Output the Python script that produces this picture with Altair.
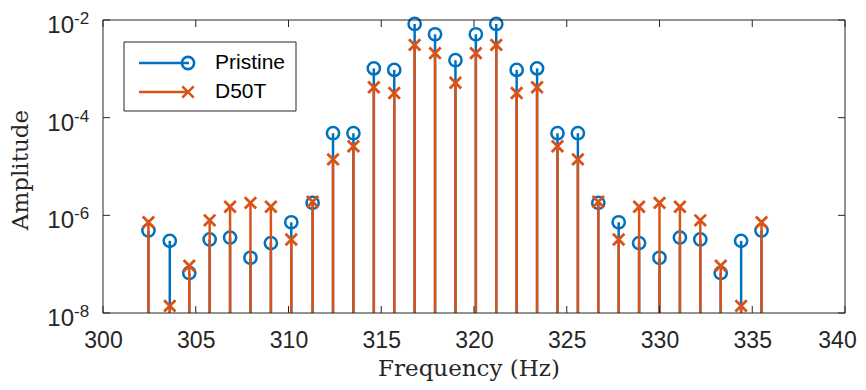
import altair as alt
import pandas as pd

# ---- data ----
freq = [302.45, 303.6, 304.65, 305.75, 306.85, 307.95, 309.05, 310.15, 311.3, 312.4,
        313.5, 314.6, 315.7, 316.8, 317.9, 319.0, 320.1, 321.2, 322.3, 323.4,
        324.5, 325.6, 326.7, 327.8, 328.9, 330.0, 331.1, 332.2, 333.3, 334.4, 335.5]
pristine = [4.9e-7, 3.0e-7, 6.6e-8, 3.2e-7, 3.5e-7, 1.35e-7, 2.7e-7, 7.2e-7, 1.8e-6, 4.8e-5,
            4.8e-5, 1.02e-3, 9.5e-4, 8.3e-3, 5.1e-3, 1.5e-3, 5.1e-3, 8.3e-3, 9.5e-4, 1.02e-3,
            4.8e-5, 4.8e-5, 1.8e-6, 7.2e-7, 2.7e-7, 1.35e-7, 3.5e-7, 3.2e-7, 6.6e-8, 3.0e-7, 4.9e-7]
d50t = [7.2e-7, 1.4e-8, 9.3e-8, 7.9e-7, 1.5e-6, 1.8e-6, 1.5e-6, 3.2e-7, 1.9e-6, 1.4e-5,
        2.6e-5, 4.2e-4, 3.2e-4, 3.1e-3, 2.1e-3, 5.2e-4, 2.1e-3, 3.1e-3, 3.2e-4, 4.2e-4,
        2.6e-5, 1.4e-5, 1.9e-6, 3.2e-7, 1.5e-6, 1.8e-6, 1.5e-6, 7.9e-7, 9.3e-8, 1.4e-8, 7.2e-7]
series_names = ["Pristine", "D50T"]
series_colors = ["#0072BD", "#D95319"]
x_ticks = [300, 305, 310, 315, 320, 325, 330, 335, 340]
y_ticks = [1e-8, 1e-6, 1e-4, 1e-2]
y_tick_exp = ["-8", "-6", "-4", "-2"]
BASE = 1e-8

W, H = 742, 293
AX = "#262626"
SANS = "Liberation Sans"
SERIF = "DejaVu Serif"
X_PATH = "M-1,-1L1,1M-1,1L1,-1"

df_p = pd.DataFrame({"f": freq, "a": pristine, "base": BASE})
df_d = pd.DataFrame({"f": freq, "a": d50t, "base": BASE})

xs = alt.Scale(domain=[300, 340], nice=False)
ys = alt.Scale(type="log", domain=[1e-8, 1e-2], nice=False)

xaxis = alt.Axis(values=x_ticks, ticks=False, domain=False, grid=False, labelFont=SANS,
                 labelFontSize=23, labelColor=AX, labelPadding=16, title=None,
                 labelFlush=False, labelOverlap=False, labelBound=False,
                 labelOffset={"condition": {"test": "datum.value >= 340", "value": -8},
                              "value": 0})


def stems(df, color):
    return alt.Chart(df).mark_rule(color=color, strokeWidth=2.5).encode(
        x=alt.X("f:Q", scale=xs, axis=xaxis),
        y=alt.Y("a:Q", scale=ys, axis=None),
        y2="base:Q",
    )


stem_p = stems(df_p, series_colors[0])
stem_d = stems(df_d, series_colors[1])

pts_p = alt.Chart(df_p).mark_point(shape="circle", filled=False, color=series_colors[0],
                                   size=150, strokeWidth=2.5, opacity=1).encode(
    x=alt.X("f:Q", scale=xs, axis=xaxis), y=alt.Y("a:Q", scale=ys, axis=None))
pts_d = alt.Chart(df_d).mark_point(shape=X_PATH, filled=False, color=series_colors[1],
                                   size=130, strokeWidth=2.8, opacity=1).encode(
    x=alt.X("f:Q", scale=xs, axis=xaxis), y=alt.Y("a:Q", scale=ys, axis=None))

# inward ticks (box style)
xt = pd.DataFrame({"t": x_ticks})
yt = pd.DataFrame({"t": y_ticks, "e": y_tick_exp, "b": ["10"] * len(y_ticks)})
xt_bot = alt.Chart(xt).mark_rule(color=AX, strokeWidth=1).encode(
    x=alt.X("t:Q", scale=xs, axis=xaxis), y=alt.value(H), y2=alt.value(H - 7))
xt_top = alt.Chart(xt).mark_rule(color=AX, strokeWidth=1).encode(
    x=alt.X("t:Q", scale=xs, axis=xaxis), y=alt.value(0), y2=alt.value(7))
yt_left = alt.Chart(yt).mark_rule(color=AX, strokeWidth=1).encode(
    y=alt.Y("t:Q", scale=ys, axis=None), x=alt.value(0), x2=alt.value(7))
yt_right = alt.Chart(yt).mark_rule(color=AX, strokeWidth=1).encode(
    y=alt.Y("t:Q", scale=ys, axis=None), x=alt.value(W), x2=alt.value(W - 7))

# y tick labels 10^n
ylab_base = alt.Chart(yt).mark_text(font=SANS, fontSize=24, color=AX, align="right",
                                    baseline="middle", dy=6).encode(
    y=alt.Y("t:Q", scale=ys, axis=None), x=alt.value(-29), text="b:N")
ylab_exp = alt.Chart(yt).mark_text(font=SANS, fontSize=17, color=AX, align="left",
                                   baseline="middle", dy=-1).encode(
    y=alt.Y("t:Q", scale=ys, axis=None), x=alt.value(-29), text="e:N")

one = pd.DataFrame({"k": ["a"]})
xtitle = alt.Chart(one).mark_text(font=SERIF, fontSize=23, color=AX, align="center",
                                  baseline="middle", text="Frequency (Hz)").encode(
    x=alt.value(366), y=alt.value(H + 56), detail="k:N")
ytitle = alt.Chart(one).mark_text(font=SERIF, fontSize=23, color=AX, align="center",
                                  baseline="middle", angle=270, text="Amplitude").encode(
    x=alt.value(-82), y=alt.value(150), detail="k:N")


def vrule(x, y1, y2, color=AX, sw=1):
    return alt.Chart(one).mark_rule(color=color, strokeWidth=sw).encode(
        x=alt.value(x), y=alt.value(y1), y2=alt.value(y2), detail="k:N")


def hrule(y, x1, x2, color=AX, sw=1):
    return alt.Chart(one).mark_rule(color=color, strokeWidth=sw).encode(
        y=alt.value(y), x=alt.value(x1), x2=alt.value(x2), detail="k:N")


# axes box
box = [hrule(0, 0, W), hrule(H, 0, W), vrule(0, 0, H), vrule(W, 0, H)]

# legend
LX0, LX1, LY0, LY1 = 21, 193, 22, 91
legend_layers = [hrule(LY0, LX0, LX1), hrule(LY1, LX0, LX1),
                 vrule(LX0, LY0, LY1), vrule(LX1, LY0, LY1)]
leg_shapes = ["circle", X_PATH]
leg_sizes = [150, 130]
leg_y = [43, 72]
for i, name in enumerate(series_names):
    d = pd.DataFrame({"name": [name]})
    legend_layers.append(alt.Chart(d).mark_rule(color=series_colors[i], strokeWidth=2.5).encode(
        x=alt.value(36), x2=alt.value(86), y=alt.value(leg_y[i]), detail="name:N"))
    legend_layers.append(alt.Chart(d).mark_point(shape=leg_shapes[i], filled=False,
                                                 color=series_colors[i], size=leg_sizes[i],
                                                 strokeWidth=2.6, opacity=1).encode(
        x=alt.value(85), y=alt.value(leg_y[i]), detail="name:N"))
    legend_layers.append(alt.Chart(d).mark_text(font=SANS, fontSize=21, color="black",
                                                align="left", baseline="middle").encode(
        x=alt.value(112), y=alt.value(leg_y[i]), text="name:N"))

chart = alt.layer(
    stem_p, pts_p, stem_d, pts_d,
    xt_bot, xt_top, yt_left, yt_right,
    ylab_base, ylab_exp, xtitle, ytitle,
    *box, *legend_layers,
).properties(
    width=W, height=H,
    autosize=alt.AutoSizeParams(type="none"),
    padding={"left": 95, "top": 12, "right": 13, "bottom": 69},
).configure(background="white").configure_view(stroke=None)

chart.save("out.html", embed_options={"renderer": "svg", "actions": False})
